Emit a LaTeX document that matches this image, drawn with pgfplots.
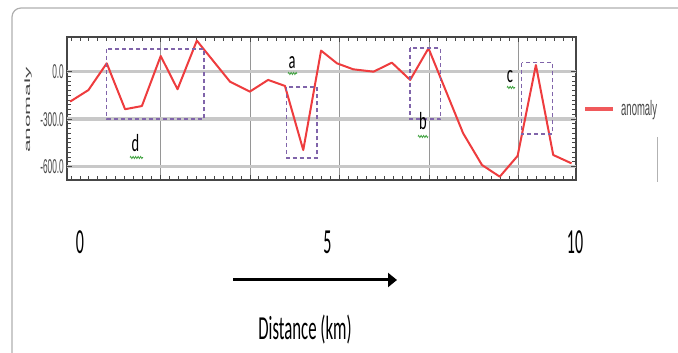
\documentclass[border=0pt]{standalone}
\usepackage{pgfplots}
\pgfplotsset{compat=1.18}
\usepackage{fontspec}
\setmainfont{Carlito}
\newfontfamily\lib{Liberation Sans}
\usetikzlibrary{arrows.meta,decorations.pathmorphing}
\definecolor{anom}{RGB}{238,60,62}
\definecolor{boxc}{RGB}{128,100,170}
\definecolor{framec}{RGB}{70,70,70}
\definecolor{hgrid}{RGB}{200,200,200}
\definecolor{vgrid}{RGB}{150,150,150}
\definecolor{outerc}{RGB}{175,175,175}
\definecolor{squig}{RGB}{60,160,60}
\newcommand{\yt}[1]{\scalebox{1}[2.4]{#1}}
\newcommand{\xt}[1]{\scalebox{1}[2.2]{#1}}
\begin{document}
\begin{tikzpicture}
\useasboundingbox (0,0) rectangle (678pt,353pt);
\begin{scope}[x=1pt,y=-1pt,yshift=353pt]
\draw[outerc, line width=1.2pt, rounded corners=9pt] (12,370) -- (12,8) -- (700,8);
\end{scope}
\begin{axis}[
 at={(67pt,173pt)}, anchor=south west,
 scale only axis, width=509pt, height=143pt,
 xmin=-0.263, xmax=10.02, ymin=-684, ymax=219,
 axis line style={framec, line width=2.2pt},
 tick align=inside,
 tick style={framec, line width=0.9pt},
 major tick length=5pt, minor tick length=4pt,
 xtick={1.626,3.434,5.242,7.05,8.858},
 xticklabels={},
 minor xtick={-0.182,-0.0012,...,10.0},
 xmajorgrids, major grid style={vgrid, line width=0.8pt},
 extra x ticks={0,5,10},
 extra x tick labels={\xt{0},\xt{5},\xt{10}},
 extra x tick style={major tick length=0pt, grid=none,
   xticklabel style={anchor=center, yshift=-62pt, font=\fontsize{16}{18}\selectfont, text=black}},
 ytick={-600,-300,0},
 yticklabels={\yt{-600.0},\yt{-300.0},\yt{0.0}},
 yticklabel style={font=\lib\fontsize{8.3}{9}\selectfont, text=framec, inner sep=1pt, xshift=-2pt},
 minor y tick num=9,
 extra y ticks={-600,-300,0},
 extra y tick labels={},
 extra y tick style={grid=major, major grid style={hgrid, line width=3.5pt}},
 xlabel={\scalebox{1}[2.0]{Distance (km)}},
 xlabel style={at={(axis description cs:0.4676,-1.049)}, anchor=center, font=\fontsize{16.8}{18}\selectfont, text=black},
 ylabel={\scalebox{2.9}[1]{anomaly}},
 ylabel style={at={(axis description cs:-0.0766,0.4895)}, anchor=center, font=\lib\fontsize{7.8}{8}\selectfont, text=framec},
 legend style={at={(axis description cs:1,0.497)}, anchor=west, xshift=7pt, draw=none, fill=none, inner sep=0pt, nodes={inner sep=0pt}, column sep=6pt, font=\lib\fontsize{9.5}{10}\selectfont, text=framec},
 legend image code/.code={\draw[anom!85, line width=4pt] (0pt,0pt) -- (28pt,0pt);},
]
\addplot[anom, line width=2pt, line join=round] coordinates {
(-0.20,-189) (0.17,-116) (0.54,53) (0.91,-237) (1.25,-217) (1.63,99) (1.97,-111)
(2.36,196) (3.03,-63) (3.43,-126) (3.80,-52) (4.14,-90) (4.51,-495) (4.87,133)
(5.19,53) (5.52,15) (5.93,0) (6.30,57) (6.67,-52) (7.04,148) (7.74,-389)
(8.12,-589) (8.48,-663) (8.84,-532) (9.21,42) (9.56,-526) (9.93,-579)
};
\addlegendentry{\scalebox{1}[2.2]{anomaly}}
\end{axis}
\begin{scope}[x=1pt,y=-1pt,yshift=353pt]
\begin{scope}[boxc, line width=1.2pt, dash pattern=on 4pt off 3pt]
\draw (106.7,49) rectangle (204,119);
\draw (286.7,87) rectangle (317,158);
\draw (410,48) rectangle (440.7,119);
\draw (521.7,62.7) rectangle (552.7,134);
\end{scope}
\begin{scope}[every node/.style={anchor=base, inner sep=0pt, font=\fontsize{14.5}{15}\selectfont}]
\node at (292,69) {\scalebox{1}[1.7]{a}};
\node at (423,130) {\scalebox{1}[1.7]{b}};
\node at (510,83) {\scalebox{1}[1.7]{c}};
\node at (135.5,152) {\scalebox{1}[1.7]{d}};
\end{scope}
\tikzset{sq/.style={squig, line width=0.7pt, decorate, decoration={zigzag, amplitude=1.2pt, segment length=2.5pt}}}
\draw[sq] (288,73.5) -- (297,73.5);
\draw[sq] (418,136.5) -- (428,136.5);
\draw[sq] (507,87.5) -- (515,87.5);
\draw[sq] (130,157.5) -- (143,157.5);
\draw[line width=3pt, -{Triangle[length=9pt,width=14pt]}] (233,280) -- (397,280);
\draw[gray!60, line width=0.8pt] (657,137) -- (657,182);
\end{scope}
\end{tikzpicture}
\end{document}
